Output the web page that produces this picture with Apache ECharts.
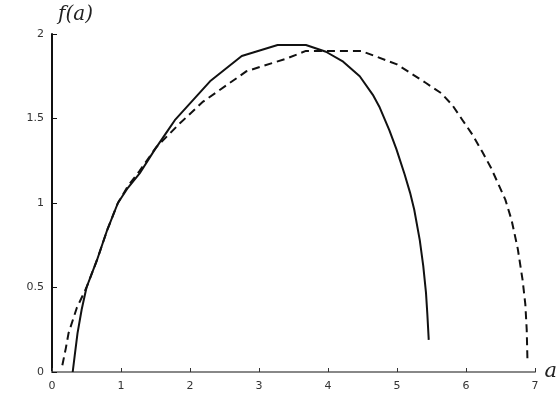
<!DOCTYPE html>
<html>
<head>
<meta charset="utf-8">
<script src="https://cdn.jsdelivr.net/npm/echarts@6/dist/echarts.min.js"></script>
<style>html,body{margin:0;padding:0;background:#fff}#c{width:560px;height:407px}</style>
</head>
<body>
<div id="c"></div>
<script>
// x ticks / y ticks
const xTicks = [0, 1, 2, 3, 4, 5, 6, 7];
const yTicks = [0, 0.5, 1, 1.5, 2];

// Solid curve (x values, y values)
const solidX = [0.30, 0.33, 0.37, 0.43, 0.50, 0.65, 0.80, 0.955, 1.10, 1.27, 1.48, 1.68, 1.78, 2.29, 2.75, 3.27, 3.68, 3.97, 4.22, 4.46, 4.65, 4.75, 4.89, 4.99, 5.11, 5.19, 5.25, 5.33, 5.38, 5.42, 5.44, 5.46];
const solidY = [0.00, 0.10, 0.23, 0.37, 0.50, 0.66, 0.84, 1.00, 1.09, 1.175, 1.31, 1.43, 1.49, 1.72, 1.87, 1.935, 1.935, 1.895, 1.836, 1.75, 1.64, 1.565, 1.43, 1.32, 1.17, 1.06, 0.96, 0.78, 0.63, 0.47, 0.34, 0.19];

// Dashed curve
const dashX = [0.15, 0.20, 0.24, 0.36, 0.50, 0.65, 0.80, 0.955, 1.10, 1.27, 1.51, 1.85, 2.19, 2.82, 3.40, 3.68, 4.48, 5.00, 5.23, 5.42, 5.64, 5.80, 5.95, 6.10, 6.24, 6.36, 6.46, 6.57, 6.66, 6.75, 6.82, 6.86, 6.88, 6.89];
const dashY = [0.04, 0.14, 0.23, 0.38, 0.50, 0.66, 0.84, 1.00, 1.10, 1.19, 1.33, 1.47, 1.60, 1.78, 1.855, 1.90, 1.90, 1.82, 1.76, 1.71, 1.65, 1.58, 1.49, 1.40, 1.30, 1.21, 1.12, 1.02, 0.90, 0.73, 0.545, 0.40, 0.25, 0.08];

const pairs = (xs, ys) => xs.map((x, i) => [x, ys[i]]);

const chart = echarts.init(document.getElementById('c'));
chart.setOption({
  animation: false,
  backgroundColor: '#fff',
  grid: { left: 52, right: 25, top: 34, bottom: 35, containLabel: false },
  xAxis: {
    type: 'value', min: xTicks[0], max: xTicks[xTicks.length - 1], interval: 1,
    name: 'a', nameLocation: 'end', nameGap: 7,
    nameTextStyle: { fontFamily: 'DejaVu Serif', fontStyle: 'italic', fontSize: 21, color: '#222', padding: [0, 0, 4, 0] },
    axisLine: { show: true, lineStyle: { color: '#888', width: 2 } },
    axisTick: { show: true, inside: true, length: 4, lineStyle: { color: '#333', width: 1 } },
    axisLabel: { color: '#333', fontSize: 11, margin: 9, fontFamily: 'DejaVu Sans' },
    splitLine: { show: false }
  },
  yAxis: {
    type: 'value', min: yTicks[0], max: yTicks[yTicks.length - 1], interval: 0.5,
    name: 'f(a)', nameLocation: 'end', nameGap: 9,
    nameTextStyle: { fontFamily: 'DejaVu Serif', fontStyle: 'italic', fontSize: 20, color: '#222', align: 'left', padding: [0, 0, 0, 6] },
    axisLine: { show: true, lineStyle: { color: '#111', width: 2 } },
    axisTick: { show: true, inside: true, length: 5, lineStyle: { color: '#111', width: 1 } },
    axisLabel: { color: '#333', fontSize: 11, margin: 8, fontFamily: 'DejaVu Sans' },
    splitLine: { show: false }
  },
  series: [
    { type: 'line', data: pairs(solidX, solidY), showSymbol: false, smooth: false,
      lineStyle: { color: '#111', width: 2 } },
    { type: 'line', data: pairs(dashX, dashY), showSymbol: false, smooth: false,
      lineStyle: { color: '#111', width: 2, type: [8, 5] } }
  ]
});
</script>
</body>
</html>
